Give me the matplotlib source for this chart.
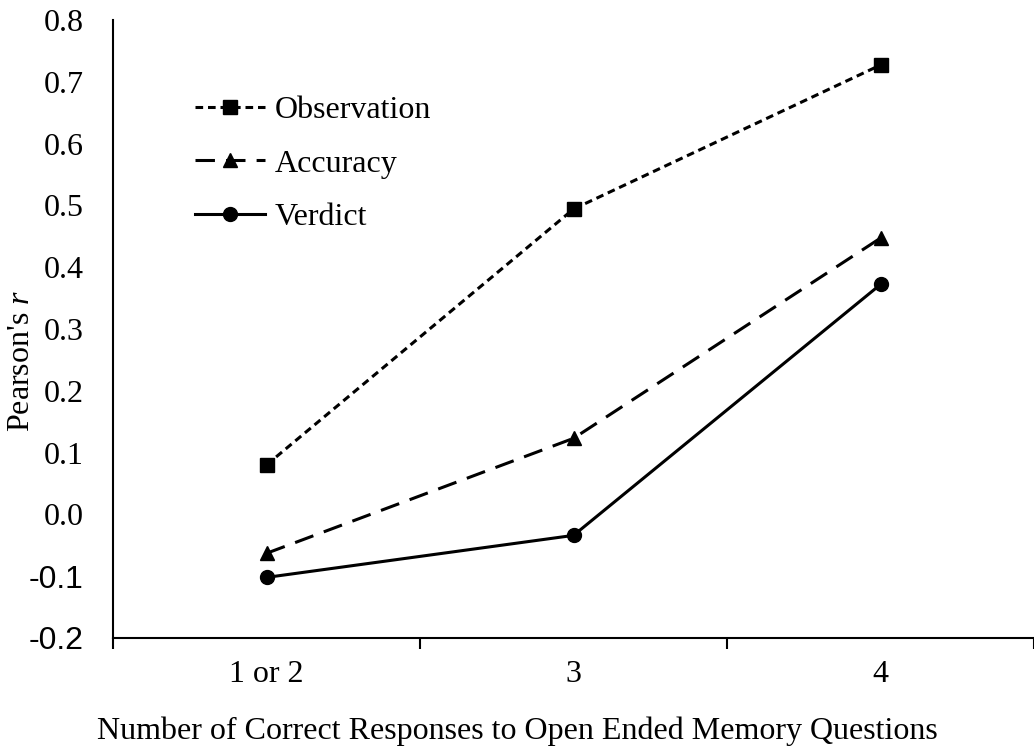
import matplotlib
matplotlib.use("Agg")
import matplotlib.pyplot as plt

categories = ["1 or 2", "3", "4"]
observation = [0.08, 0.494, 0.727]
accuracy = [-0.063, 0.123, 0.447]
verdict = [-0.102, -0.034, 0.372]
yticks = [-0.2, -0.1, 0.0, 0.1, 0.2, 0.3, 0.4, 0.5, 0.6, 0.7, 0.8]

plt.rcParams['font.family'] = ['Liberation Serif', 'DejaVu Serif']
plt.rcParams['lines.scale_dashes'] = False
plt.rcParams['mathtext.fontset'] = 'custom'
plt.rcParams['mathtext.it'] = 'Liberation Serif:italic'
plt.rcParams['mathtext.rm'] = 'Liberation Serif'

FS = 23

fig = plt.figure(figsize=(10.34, 7.46), dpi=100)
ax = fig.add_axes([0.1093, 0.1448, 0.8907, 0.8285])

x = list(range(1, len(categories) + 1))
ax.plot(x, observation, color='black', lw=2.2, dashes=(5.5, 3.5), marker='s', ms=9.5, label='Observation')
ax.plot(x, accuracy, color='black', lw=2.2, dashes=(14, 8), marker='^', ms=9.5, label='Accuracy')
ax.plot(x, verdict, color='black', lw=2.2, marker='o', ms=10, label='Verdict')

ax.set_xlim(0.5, 3.49)
ax.set_ylim(-0.2, 0.8)
ax.set_yticks(yticks)
ax.set_yticklabels([f"{v:.1f}" for v in yticks])
for lab, v in zip(ax.get_yticklabels(), yticks):
    if v < 0:
        lab.set_family(['Liberation Sans', 'DejaVu Sans'])
ax.tick_params(axis='y', length=0, labelsize=FS, pad=21)

ax.set_xticks(x)
ax.set_xticklabels(categories)
ax.set_xticks([0.5, 1.5, 2.5, 3.5], minor=True)
ax.tick_params(axis='x', which='major', length=0, labelsize=FS, pad=16)
ax.tick_params(axis='x', which='minor', length=8, width=1.5, direction='out')

for s in ['top', 'right']:
    ax.spines[s].set_visible(False)
for s in ['left', 'bottom']:
    ax.spines[s].set_linewidth(1.5)

ax.set_xlabel("Number of Correct Responses to Open Ended Memory Questions", fontsize=FS, labelpad=20)
ax.xaxis.label.set_x(0.4387)
ax.set_ylabel("Pearson's $r$", fontsize=FS)
ax.yaxis.set_label_coords(-0.0836, 0.449)

leg = ax.legend(loc='upper left', bbox_to_anchor=(0.0716, 0.903), frameon=False, fontsize=FS,
                handlelength=2.2, handletextpad=0.3, labelspacing=0.75, borderpad=0)

fig.savefig("out.png", dpi=100)
